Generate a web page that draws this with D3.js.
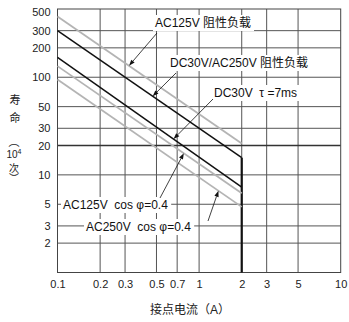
<!DOCTYPE html>
<html><head><meta charset="utf-8">
<script src="https://cdn.jsdelivr.net/npm/d3@7/dist/d3.min.js"></script>
<style>
html,body{margin:0;padding:0;background:#fff;}
svg{display:block;font-family:"Liberation Sans","Noto Sans CJK SC",sans-serif;}
</style></head>
<body><svg id="c" width="349" height="322"></svg>
<script>
// ---- data ----
const xTicks = [0.1, 0.2, 0.3, 0.5, 0.7, 1, 2, 3, 5, 10];
const yTicks = [2, 3, 5, 10, 20, 30, 50, 100, 200, 300, 500];
const seriesNames = ["AC125V 阻性负载", "DC30V/AC250V 阻性负载", "DC30V τ=7ms", "AC125V cos φ=0.4", "AC250V cos φ=0.4"];
const currents = [0.1, 2];
const lifeAC125R = [420, 21];
const lifeDC30R  = [300, 15];
const lifeDC30L  = [160, 7.5];
const lifeAC125L = [130, 6.5];
const lifeAC250L = [95, 4.7];
const ratedCurrent = 2;

// ---- styles / layout ----
const seriesValues = [lifeAC125R, lifeDC30R, lifeDC30L, lifeAC125L, lifeAC250L];
const seriesColor = ["#b4b4b4", "#111", "#111", "#b4b4b4", "#b4b4b4"];
const seriesWidth = [1.8, 1.5, 1.5, 1.8, 1.8];
const L = 57.5, R = 340.7, T = 9, B = 272.5;

const svg = d3.select("#c");
const x = d3.scaleLog().domain([0.1, 10]).range([L, R]);
const y = d3.scaleLog().domain([1, 500]).range([B, T]);

// grid
const g = svg.append("g");
g.selectAll(".vg").data(xTicks.filter(d => d > 0.1 && d < 10)).enter().append("line")
  .attr("x1", d => x(d)).attr("x2", d => x(d)).attr("y1", T).attr("y2", B)
  .attr("stroke", "#555").attr("stroke-width", 1);
g.selectAll(".hg").data(yTicks.filter(d => d < 500)).enter().append("line")
  .attr("x1", L).attr("x2", R).attr("y1", d => y(d)).attr("y2", d => y(d))
  .attr("stroke", d => d === 20 ? "#333" : "#555").attr("stroke-width", d => d === 20 ? 1.7 : 1);
g.append("rect").attr("x", L).attr("y", T).attr("width", R - L).attr("height", B - T)
  .attr("fill", "none").attr("stroke", "#444").attr("stroke-width", 1);

// axes
const ax = svg.append("g").attr("transform", `translate(0,${B})`)
  .call(d3.axisBottom(x).tickValues(xTicks).tickFormat(d => String(d)).tickSize(0).tickPadding(8));
ax.select(".domain").remove();
ax.selectAll("text").attr("font-size", 11).attr("fill", "#222");
const ay = svg.append("g").attr("transform", `translate(${L},0)`)
  .call(d3.axisLeft(y).tickValues(yTicks).tickFormat(d => String(d)).tickSize(0).tickPadding(7));
ay.select(".domain").remove();
ay.selectAll("text").attr("font-size", 11).attr("fill", "#222")
  .attr("dy", d => d === 500 ? "0.62em" : "0.32em");

// rated current limit line
svg.append("line").attr("x1", x(ratedCurrent)).attr("x2", x(ratedCurrent))
  .attr("y1", B).attr("y2", y(lifeDC30R[1]))
  .attr("stroke", "#111").attr("stroke-width", 2.2);

// series lines
const line = d3.line().x(d => x(d[0])).y(d => y(d[1]));
svg.selectAll(".s").data(seriesValues).enter().append("path")
  .attr("d", v => line(currents.map((c, i) => [c, v[i]])))
  .attr("fill", "none").attr("stroke", (v, i) => seriesColor[i]).attr("stroke-width", (v, i) => seriesWidth[i]);

// value on a series (log-log straight line)
function lifeAt(v, c) {
  const t = (Math.log(c) - Math.log(currents[0])) / (Math.log(currents[1]) - Math.log(currents[0]));
  return Math.exp(Math.log(v[0]) + t * (Math.log(v[1]) - Math.log(v[0])));
}

// annotations: text position (px), tail (px), tip current on series
const ann = [
  {s: 0, tx: 155, ty: 27, tail: [157, 33], tipI: 0.32},
  {s: 1, tx: 170, ty: 67, tail: [176, 73], tipI: 0.47},
  {s: 2, tx: 214, ty: 97, tail: [213, 99], tipI: 0.66},
  {s: 3, tx: 63, ty: 209, tail: [160, 198], tipI: 0.78},
  {s: 4, tx: 86, ty: 231, tail: [208, 221], tipI: 1.37}
];
const labelText = [
  "AC125V 阻性负载", "DC30V/AC250V 阻性负载", "DC30V\u00a0\u00a0τ\u00a0=7ms", "AC125V\u00a0\u00a0cos\u00a0φ=0.4", "AC250V\u00a0\u00a0cos\u00a0φ=0.4"
];
const ag = svg.append("g");
ann.forEach((a, i) => {
  const box = ag.append("rect").attr("fill", "#fff");
  const t = ag.append("text").attr("x", a.tx).attr("y", a.ty).attr("font-size", 12).attr("fill", "#111").text(labelText[i]);
  const bb = t.node().getBBox();
  box.attr("x", bb.x - 2).attr("y", bb.y - 1).attr("width", bb.width + 5).attr("height", bb.height + 2);
  t.raise();
  const tipX = x(a.tipI), tipY = y(lifeAt(seriesValues[a.s], a.tipI));
  const dx = tipX - a.tail[0], dy = tipY - a.tail[1], len = Math.hypot(dx, dy);
  const ux = dx / len, uy = dy / len, hl = 6, hw = 2.2;
  const bx = tipX - ux * hl, by = tipY - uy * hl;
  ag.append("line").attr("x1", a.tail[0]).attr("y1", a.tail[1]).attr("x2", bx).attr("y2", by)
    .attr("stroke", "#111").attr("stroke-width", 0.8);
  ag.append("path").attr("d", `M${tipX},${tipY}L${bx - uy * hw},${by + ux * hw}L${bx + uy * hw},${by - ux * hw}Z`)
    .attr("fill", "#111");
});

// axis titles
const yt = svg.append("g").attr("font-size", 11).attr("fill", "#222").attr("text-anchor", "middle");
yt.append("text").attr("x", 15).attr("y", 104).text("寿");
yt.append("text").attr("x", 15).attr("y", 122).text("命");
yt.append("text").attr("x", 14).attr("y", 146).text("︵");
const p = yt.append("text").attr("x", 14).attr("y", 158).attr("font-size", 10);
p.append("tspan").text("10");
p.append("tspan").attr("font-size", 7).attr("dy", -4).text("4");
yt.append("text").attr("x", 14).attr("y", 172).attr("font-size", 10).text("次");
yt.append("text").attr("x", 14).attr("y", 182).attr("font-size", 10).text("︶");
svg.append("text").attr("x", 190).attr("y", 314).attr("text-anchor", "middle")
  .attr("font-size", 12).attr("fill", "#222").text("接点电流（A）");
</script></body></html>
